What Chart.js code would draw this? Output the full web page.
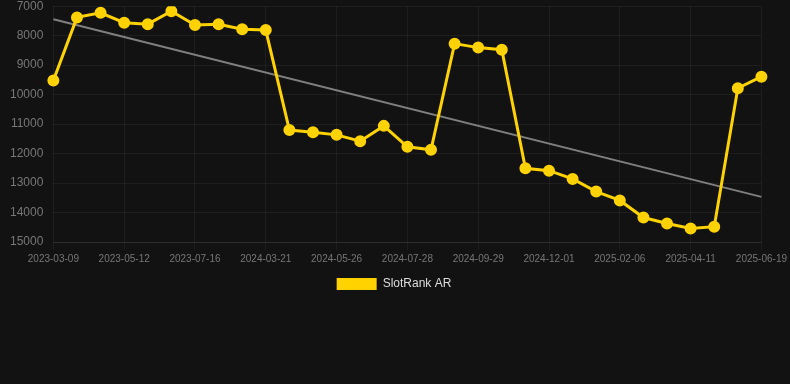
<!DOCTYPE html>
<html>
<head>
<meta charset="utf-8">
<script src="https://cdn.jsdelivr.net/npm/chart.js@4/dist/chart.umd.min.js"></script>
<style>
  html, body { margin: 0; padding: 0; background: #121212; overflow: hidden; }
  #wrap { width: 790px; height: 311px; position: relative; margin-top: -11px; }
</style>
</head>
<body>
<div id="wrap"><canvas id="c"></canvas></div>
<script>
const categories = [
  "2023-03-09","2023-03-30","2023-04-21","2023-05-12","2023-06-02","2023-06-24",
  "2023-07-16","2023-10-05","2023-12-28","2024-03-21","2024-04-11","2024-05-04",
  "2024-05-26","2024-06-16","2024-07-07","2024-07-28","2024-08-18","2024-09-08",
  "2024-09-29","2024-10-20","2024-11-10","2024-12-01","2024-12-23","2025-01-14",
  "2025-02-06","2025-02-27","2025-03-20","2025-04-11","2025-05-04","2025-05-27",
  "2025-06-19"
];
const rankValues = [
  9520, 7380, 7225, 7560, 7610, 7170, 7640, 7610, 7780, 7810,
  11200, 11275, 11365, 11580, 11060, 11770, 11870, 8270, 8405, 8475,
  12500, 12580, 12860, 13290, 13590, 14170, 14370, 14540, 14480, 9780,
  9390
];
const trendEnds = [7440, 13470];
const yTicks = [7000, 8000, 9000, 10000, 11000, 12000, 13000, 14000, 15000];

const trendData = categories.map((_, i) =>
  i === 0 ? trendEnds[0] : (i === categories.length - 1 ? trendEnds[1] : null));

new Chart(document.getElementById('c'), {
  type: 'line',
  data: {
    labels: categories,
    datasets: [
      {
        label: 'SlotRank AR',
        data: rankValues,
        borderColor: '#FFD200',
        backgroundColor: '#FFD200',
        borderWidth: 3,
        pointRadius: 4.5,
        pointHoverRadius: 4.5,
        pointBackgroundColor: '#FFD200',
        pointBorderColor: '#FFD200',
        tension: 0,
        order: 1
      },
      {
        label: 'trend',
        data: trendData,
        spanGaps: true,
        borderColor: 'rgba(140,140,140,0.9)',
        borderWidth: 2,
        pointRadius: 0,
        fill: false,
        order: 2
      }
    ]
  },
  options: {
    responsive: true,
    maintainAspectRatio: false,
    animation: false,
    layout: { padding: { left: 0, right: 2 } },
    plugins: {
      legend: {
        position: 'bottom',
        labels: {
          color: '#dddddd',
          font: { family: 'Arial, Liberation Sans, sans-serif', size: 12 },
          boxWidth: 40,
          boxHeight: 12,
          padding: 10,
          generateLabels: (chart) => Chart.defaults.plugins.legend.labels.generateLabels(chart)
            .map(it => Object.assign(it, { lineWidth: 0 })),
          filter: (item) => item.text === 'SlotRank AR'
        }
      },
      tooltip: { enabled: false }
    },
    scales: {
      x: {
        offset: false,
        grid: { color: 'rgba(255,255,255,0.05)', tickColor: 'rgba(255,255,255,0.05)' },
        border: { color: 'rgba(255,255,255,0.08)' },
        ticks: {
          color: '#777777',
          font: { family: 'Arial, Liberation Sans, sans-serif', size: 10 },
          autoSkip: true,
          maxTicksLimit: 11,
          maxRotation: 0
        }
      },
      y: {
        reverse: true,
        min: 7000,
        max: 15000,
        afterBuildTicks: (axis) => { axis.ticks = yTicks.map(v => ({ value: v })); },
        grid: { color: 'rgba(255,255,255,0.05)', drawTicks: false },
        border: { display: false },
        ticks: {
          color: '#777777',
          padding: 10,
          callback: (v) => String(v),
          font: { family: 'Arial, Liberation Sans, sans-serif', size: 12 }
        }
      }
    }
  }
});
</script>
</body>
</html>
